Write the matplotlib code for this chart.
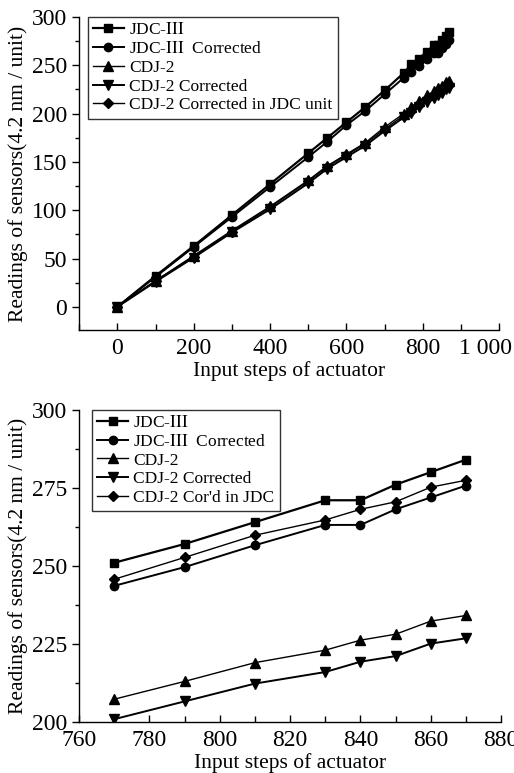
import matplotlib
matplotlib.use("Agg")
import matplotlib.pyplot as plt
import matplotlib.transforms as mtransforms
from matplotlib.ticker import MultipleLocator, FixedLocator, FixedFormatter

plt.rcParams['font.family'] = ['Liberation Serif', 'DejaVu Serif']
plt.rcParams['mathtext.fontset'] = 'stix'

# ---- data: top panel (full range) ----
x_full = [0, 100, 200, 300, 400, 500, 550, 600, 650, 700, 750, 770, 790, 810, 830, 840, 850, 860, 870]
jdc_full = [0, 32, 63, 95, 127, 159, 175, 191, 207, 224, 242, 251, 257, 264, 271, 271, 276, 280, 284]
jdc_corr_full = [0, 31, 62, 93, 124, 155, 171, 188, 203, 220, 237, 243.6, 249.6, 256.6, 263.1, 263.1, 268.1, 271.9, 275.7]
cdj_full = [0, 27, 53, 79, 104, 131, 146, 158, 170, 186, 200, 207.3, 213, 219, 223, 226.2, 228.1, 232.3, 234.1]
cdj_corr_full = [0, 26, 51, 77, 101, 128, 143, 155, 167, 182, 196, 200.9, 206.6, 212.3, 216, 219.3, 221.1, 225.1, 226.8]
cdj_jdc_full = [0, 27, 52, 78, 103, 130, 145, 157, 169, 184, 198, 203, 209, 215, 219, 222, 224, 228, 230]

# ---- data: bottom panel (zoomed range) ----
x_zoom = [770, 790, 810, 830, 840, 850, 860, 870]
jdc_zoom = [251, 257, 264, 271, 271, 276, 280, 284]
jdc_corr_zoom = [243.6, 249.6, 256.6, 263.1, 263.1, 268.1, 271.9, 275.7]
cdj_zoom = [207.3, 213.0, 219.0, 223.0, 226.2, 228.1, 232.3, 234.1]
cdj_corr_zoom = [200.9, 206.6, 212.3, 216.0, 219.3, 221.1, 225.1, 226.8]
cdj_jdc_zoom = [245.7, 252.7, 259.8, 264.7, 268.1, 270.5, 275.2, 277.4]

x_ticks_top = [0, 200, 400, 600, 800, 1000]
x_ticklabels_top = ['0', '200', '400', '600', '800', '1 000']

labels_top = ['JDC-$\\mathrm{III}$', 'JDC-$\\mathrm{III}$  Corrected', 'CDJ-2', 'CDJ-2 Corrected',
              'CDJ-2 Corrected in JDC unit']
labels_bot = ['JDC-$\\mathrm{III}$', 'JDC-$\\mathrm{III}$  Corrected', 'CDJ-2', 'CDJ-2 Corrected',
              "CDJ-2 Cor'd in JDC"]
markers = ['s', 'o', '^', 'v', 'D']
lws = [1.6, 1.4, 1.0, 1.4, 1.0]
msizes = [6, 6, 7, 7, 5.5]

fig = plt.figure(figsize=(5.14, 7.73), dpi=100)
ax1 = fig.add_axes([0.154, 0.573, 0.817, 0.405])
ax2 = fig.add_axes([0.154, 0.066, 0.821, 0.404])

TFS = 17
LFS = 15.5

def style(ax):
    for s in ['top', 'right']:
        ax.spines[s].set_visible(False)
    for s in ['left', 'bottom']:
        ax.spines[s].set_linewidth(1.0)
    ax.tick_params(axis='x', which='both', direction='in', labelsize=TFS, pad=6)
    ax.tick_params(axis='x', which='major', length=5, width=1)
    ax.tick_params(axis='x', which='minor', length=4, width=1)
    ax.tick_params(axis='y', which='both', direction='out', labelsize=TFS)
    ax.tick_params(axis='y', which='major', length=5, width=1)
    ax.tick_params(axis='y', which='minor', length=3, width=1)
    ax.set_xlabel('Input steps of actuator', fontsize=LFS, labelpad=1)
    ax.set_ylabel('Readings of sensors(4.2 nm / unit)', fontsize=LFS, labelpad=3)

series_top = [jdc_full, jdc_corr_full, cdj_full, cdj_corr_full, cdj_jdc_full]
for ys, lab, m, lw, ms in zip(series_top, labels_top, markers, lws, msizes):
    ax1.plot(x_full, ys, color='black', marker=m, lw=lw, ms=ms, label=lab)
ax1.set_xlim(-100, 1000)
ax1.set_ylim(-24, 300)
ax1.xaxis.set_major_locator(FixedLocator(x_ticks_top))
ax1.xaxis.set_major_formatter(FixedFormatter(x_ticklabels_top))
ax1.xaxis.set_minor_locator(MultipleLocator(100))
ax1.yaxis.set_major_locator(MultipleLocator(50))
ax1.yaxis.set_minor_locator(MultipleLocator(25))
style(ax1)
leg1 = ax1.legend(loc='upper left', bbox_to_anchor=(0.02, 1.0), fontsize=12.5, frameon=True,
                  fancybox=False, edgecolor='black', handlelength=1.8, handletextpad=0.3,
                  labelspacing=0.15, borderpad=0.3, borderaxespad=0.0)
leg1.get_frame().set_linewidth(1.0)

# shift last top tick label left so it stays inside the figure
fig.canvas.draw()
lbl = ax1.get_xticklabels()[-1]
lbl.set_transform(lbl.get_transform() + mtransforms.ScaledTranslation(-14 / 100, 0, fig.dpi_scale_trans))

series_bot = [jdc_zoom, jdc_corr_zoom, cdj_zoom, cdj_corr_zoom, cdj_jdc_zoom]
for ys, lab, m, lw, ms in zip(series_bot, labels_bot, markers, lws, msizes):
    ax2.plot(x_zoom, ys, color='black', marker=m, lw=lw, ms=ms, label=lab)
ax2.set_xlim(760, 880)
ax2.set_ylim(200, 300)
ax2.xaxis.set_major_locator(MultipleLocator(20))
ax2.xaxis.set_minor_locator(MultipleLocator(10))
ax2.yaxis.set_major_locator(MultipleLocator(25))
ax2.yaxis.set_minor_locator(MultipleLocator(12.5))
style(ax2)
leg2 = ax2.legend(loc='upper left', bbox_to_anchor=(0.03, 1.0), fontsize=12.5, frameon=True,
                  fancybox=False, edgecolor='black', handlelength=1.8, handletextpad=0.3,
                  labelspacing=0.15, borderpad=0.3, borderaxespad=0.0)
leg2.get_frame().set_linewidth(1.0)

fig.savefig('out.png', dpi=100)
